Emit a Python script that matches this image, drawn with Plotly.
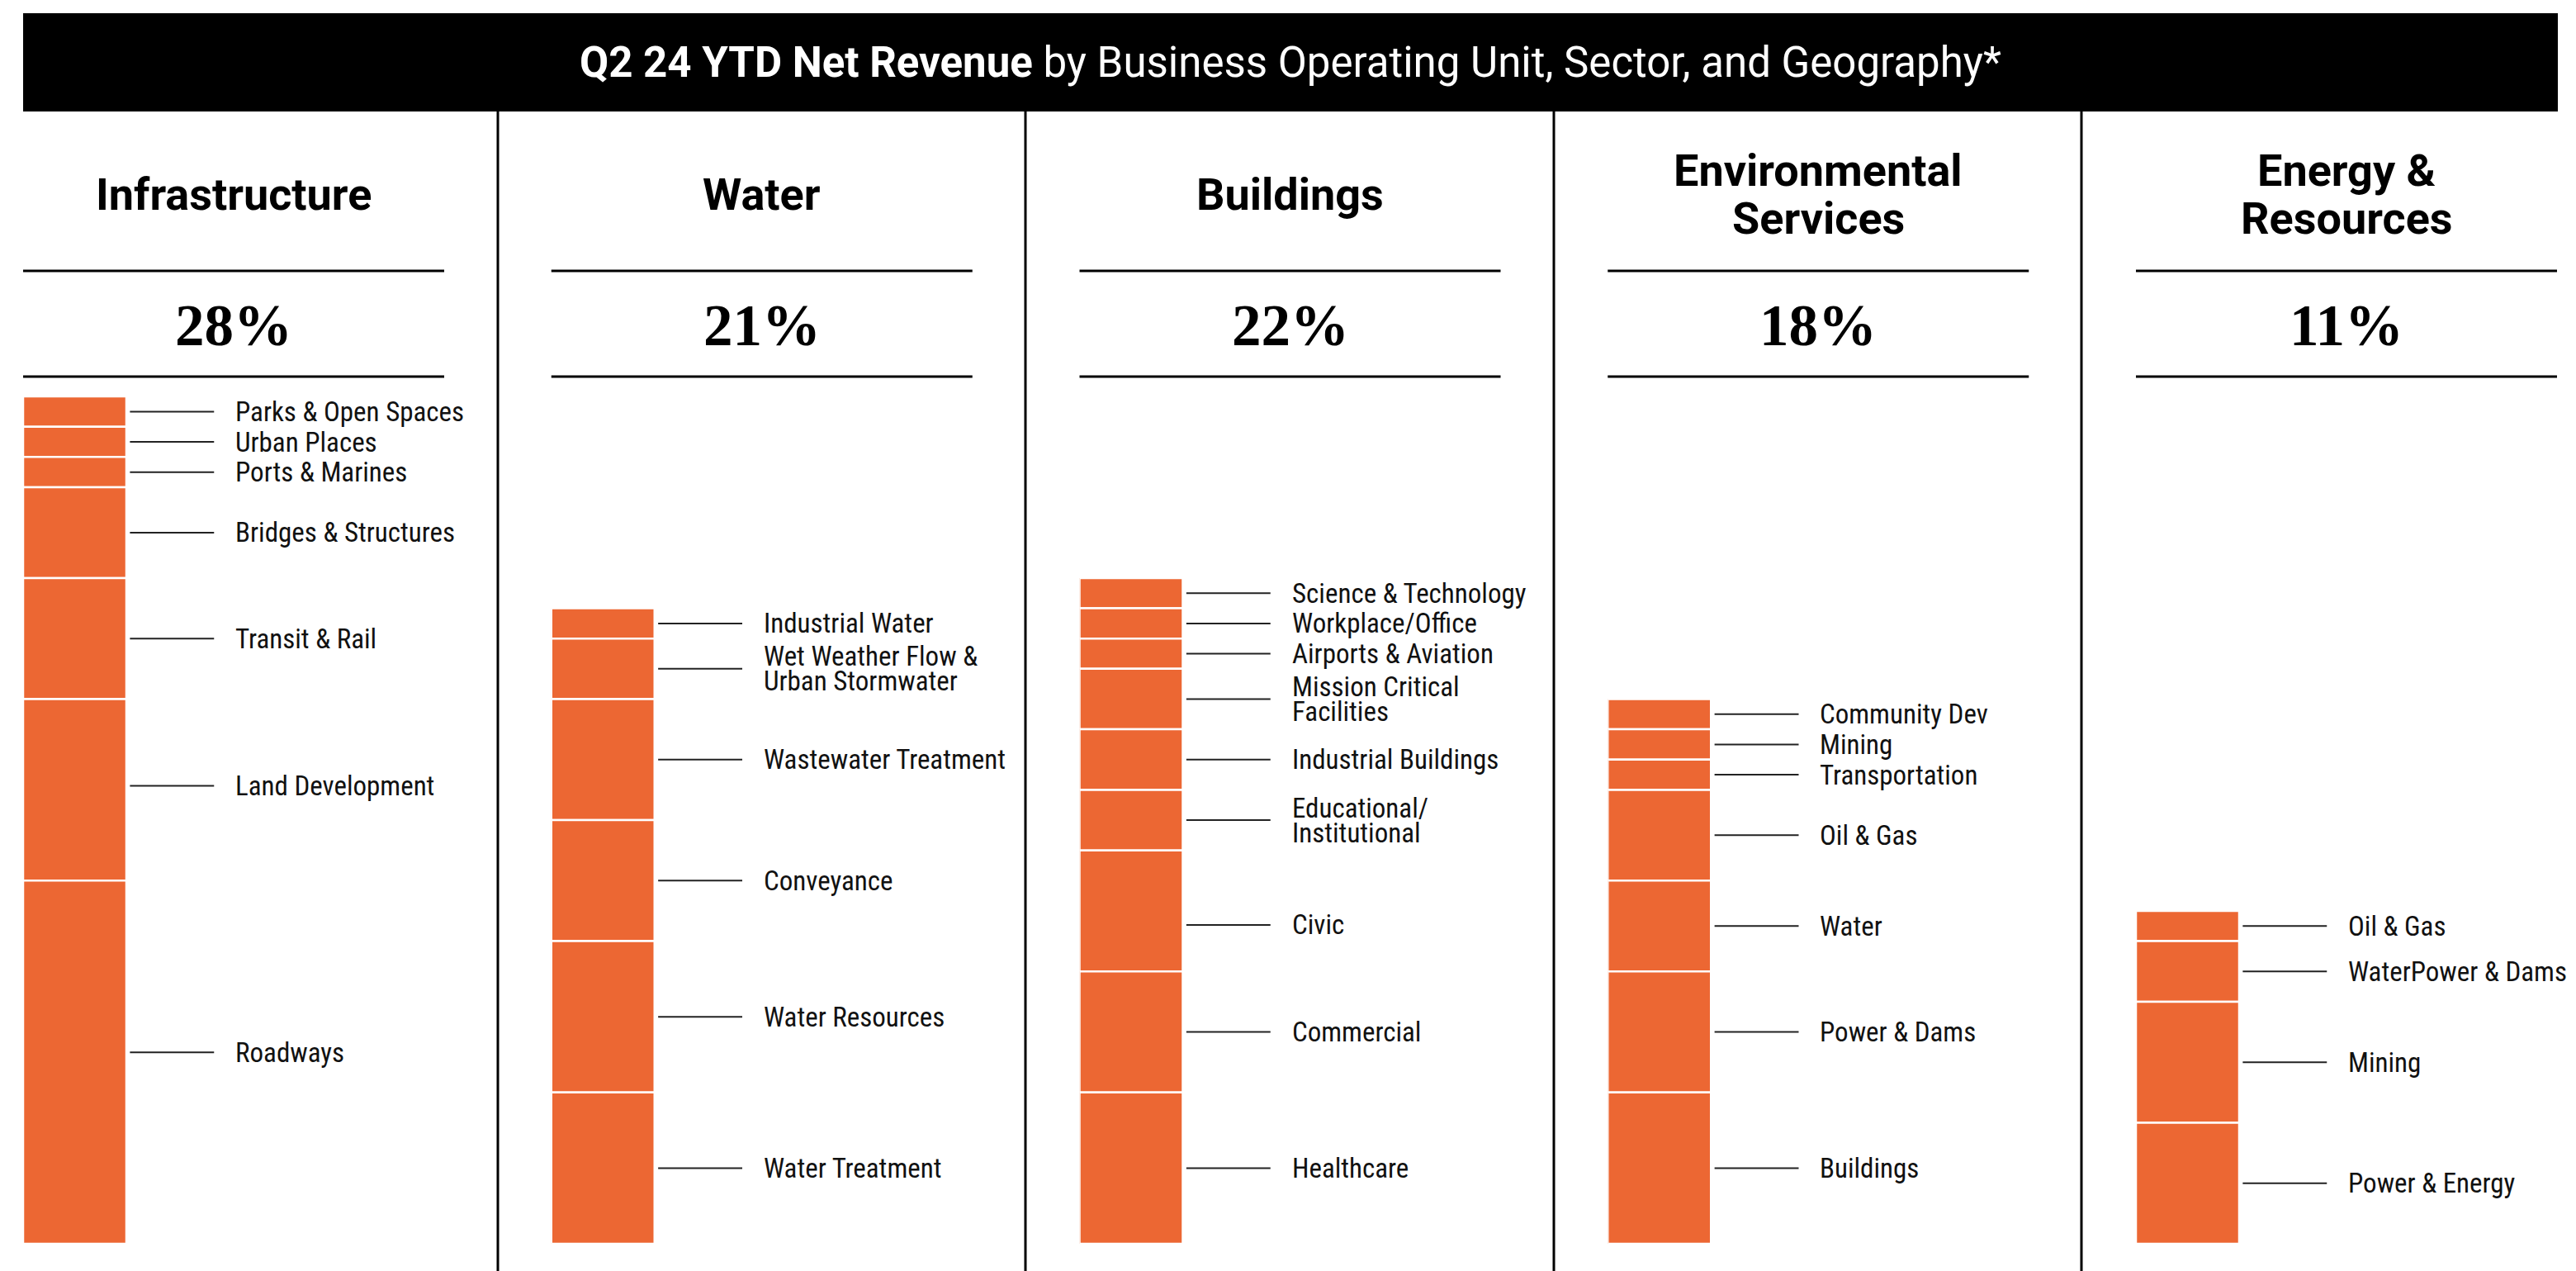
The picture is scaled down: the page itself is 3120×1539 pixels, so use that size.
import plotly.graph_objects as go

# ---------------- data ----------------
units = ["Infrastructure", "Water", "Buildings", "Environmental<br>Services", "Energy &<br>Resources"]
unit_share = [28, 21, 22, 18, 11]

infra_sectors = ["Parks & Open Spaces", "Urban Places", "Ports & Marines", "Bridges & Structures",
                 "Transit & Rail", "Land Development", "Roadways"]
infra_values = [1, 1, 1, 3, 4, 6, 12]

water_sectors = ["Industrial Water", "Wet Weather Flow &<br>Urban Stormwater", "Wastewater Treatment",
                 "Conveyance", "Water Resources", "Water Treatment"]
water_values = [1, 2, 4, 4, 5, 5]

buildings_sectors = ["Science & Technology", "Workplace/Office", "Airports & Aviation",
                     "Mission Critical<br>Facilities", "Industrial Buildings", "Educational/<br>Institutional",
                     "Civic", "Commercial", "Healthcare"]
buildings_values = [1, 1, 1, 2, 2, 2, 4, 4, 5]

env_sectors = ["Community Dev", "Mining", "Transportation", "Oil & Gas", "Water", "Power & Dams", "Buildings"]
env_values = [1, 1, 1, 3, 3, 4, 5]

energy_sectors = ["Oil & Gas", "WaterPower & Dams", "Mining", "Power & Energy"]
energy_values = [1, 2, 4, 4]

sector_lists = [infra_sectors, water_sectors, buildings_sectors, env_sectors, energy_sectors]
value_lists = [infra_values, water_values, buildings_values, env_values, energy_values]

title_bold = "Q2 24 YTD Net Revenue"
title_rest = " by Business Operating Unit, Sector, and Geography*"

# ---------------- layout / style constants ----------------
W, H = 3120, 1539
ORANGE = "#EC6733"
col_left = [28 + k * 639.75 for k in range(5)]
bar_px = 125.0
axis_px = 530.0
y_bottom_px = 1506
px_per_unit = 36.64
y_min = -(H - y_bottom_px) / px_per_unit
y_max = y_min + H / px_per_unit

# small vertical nudges (pixels) of a few leader lines, as in the original artwork
label_nudge_px = {(0, "Land Development"): 5, (0, "Roadways"): 12, (2, "Civic"): -17}

LABEL_FONT = dict(family="Liberation Sans Narrow, Roboto Condensed, Roboto", size=33, color="#111111")
HEAD_FONT = dict(family="Roboto, Arial", size=54, color="#000000")
PCT_FONT = dict(family="Liberation Serif, Times New Roman, serif", size=71, color="#000000")


def py(p):
    return 1 - p / H


def pxx(p):
    return p / W


fig = go.Figure()
shapes = []
annotations = []

for k in range(5):
    ax = "x" if k == 0 else f"x{k + 1}"
    axname = "xaxis" if k == 0 else f"xaxis{k + 1}"
    cat = units[k].replace("<br>", " ")
    sectors = sector_lists[k]
    vals = value_lists[k]
    bases = [sum(vals[i + 1:]) for i in range(len(vals))]
    fig.add_trace(go.Bar(
        x=[cat] * len(vals), y=vals, base=bases, width=1,
        marker=dict(color=ORANGE, line=dict(color="white", width=2.5)),
        xaxis=ax, yaxis="y", showlegend=False, hoverinfo="skip",
    ))
    fig.layout[axname] = dict(
        domain=[pxx(col_left[k]), pxx(col_left[k] + axis_px)],
        range=[-0.5, -0.5 + axis_px / bar_px], type="category",
        visible=False, anchor="y", fixedrange=True,
    )
    for s, v, b in zip(sectors, vals, bases):
        yc = b + v / 2 + label_nudge_px.get((k, s), 0) / px_per_unit
        shapes.append(dict(type="line", xref=ax, yref="y", x0=0.535, x1=1.35, y0=yc, y1=yc,
                           line=dict(color="#222222", width=2)))
        lines = s.split("<br>")
        m = len(lines)
        for j, ln in enumerate(lines):
            annotations.append(dict(xref=ax, yref="y", x=1.54, y=yc, text=ln, showarrow=False,
                                    xanchor="left", yanchor="middle", font=LABEL_FONT,
                                    yshift=((m - 1) / 2 - j) * 30))

    # header text
    cx = col_left[k] + 255
    hl = units[k].split("<br>")
    m = len(hl)
    for j, ln in enumerate(hl):
        annotations.append(dict(xref="paper", yref="paper", x=pxx(cx), y=py(235), text=f"<b>{ln}</b>",
                                showarrow=False, xanchor="center", yanchor="middle", font=HEAD_FONT,
                                yshift=((m - 1) / 2 - j) * 58))
    annotations.append(dict(xref="paper", yref="paper", x=pxx(cx), y=py(394), text=f"<b>{unit_share[k]}%</b>",
                            showarrow=False, xanchor="center", yanchor="middle", font=PCT_FONT))
    for yl in (328, 456):
        shapes.append(dict(type="line", xref="paper", yref="paper", x0=pxx(col_left[k]),
                           x1=pxx(col_left[k] + 510), y0=py(yl), y1=py(yl),
                           line=dict(color="black", width=3)))

# title bar
shapes.append(dict(type="rect", xref="paper", yref="paper", x0=pxx(28), x1=pxx(3098), y0=py(135), y1=py(16),
                   fillcolor="black", line=dict(width=0), layer="below"))
annotations.append(dict(xref="paper", yref="paper", x=pxx(1563), y=py(75),
                        text=f"<b>{title_bold}</b>{title_rest}", showarrow=False,
                        xanchor="center", yanchor="middle",
                        font=dict(family="Roboto, Arial", size=51, color="white")))
# column dividers
for xd in (603, 1242, 1882, 2521):
    shapes.append(dict(type="line", xref="paper", yref="paper", x0=pxx(xd), x1=pxx(xd), y0=0, y1=py(135),
                       line=dict(color="black", width=3)))

fig.update_layout(
    width=W, height=H, margin=dict(l=0, r=0, t=0, b=0),
    paper_bgcolor="white", plot_bgcolor="white", barmode="overlay",
    yaxis=dict(domain=[0, 1], range=[y_min, y_max], visible=False, fixedrange=True),
    shapes=shapes, annotations=annotations, showlegend=False,
)

fig.write_html("out.html", config={"displayModeBar": False},
               post_script="document.body.style.margin='0px';document.body.style.overflow='hidden';")
